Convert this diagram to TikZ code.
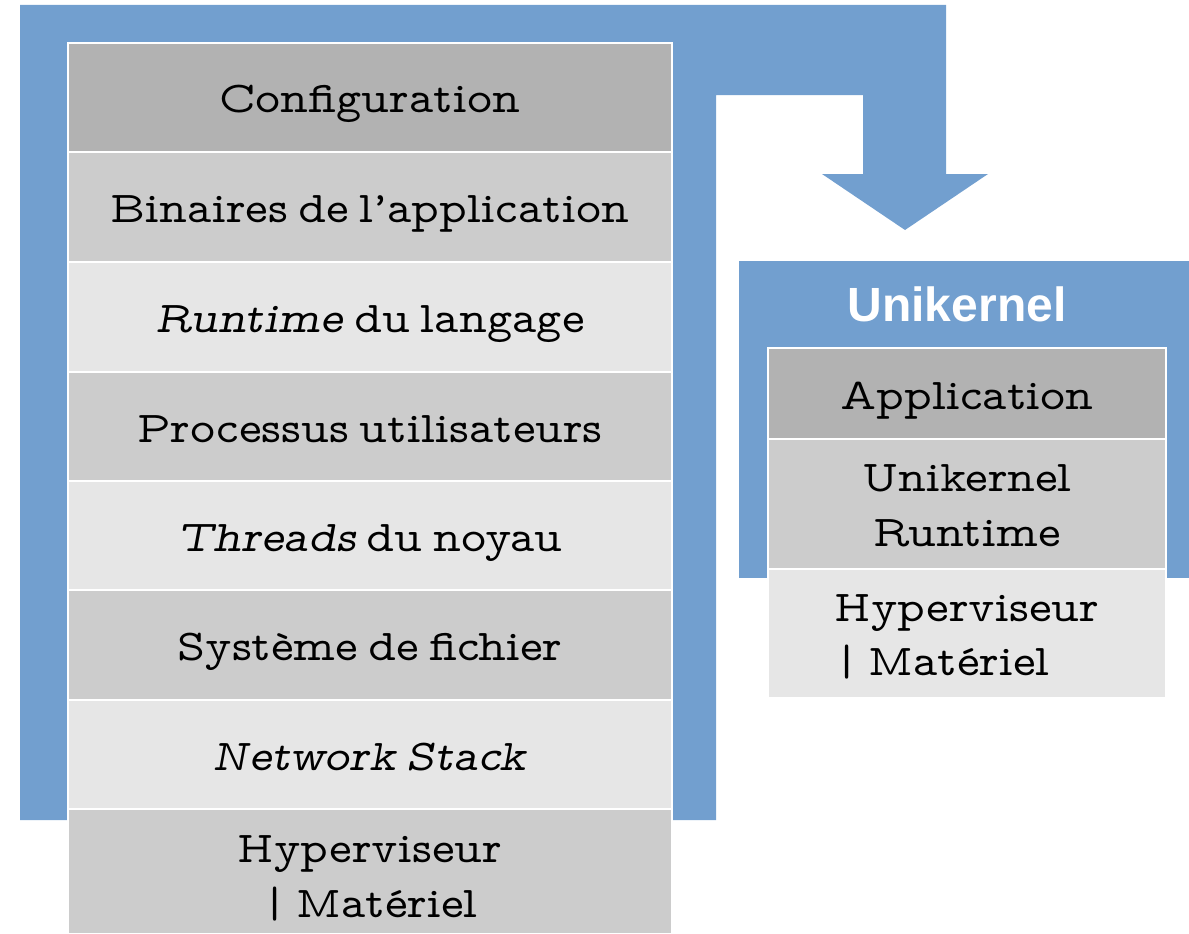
\documentclass[tikz,border=0pt]{standalone}
\usepackage{fontspec}
\newfontfamily\titlefont{Liberation Sans}
\newfontfamily\slab{lmmonoprop10-regular.otf}[FakeStretch=1.09,WordSpace=0.62,
  ItalicFont=lmmonoprop10-oblique.otf]
\definecolor{blueA}{HTML}{729FCF}
\definecolor{grayA}{HTML}{B2B2B2}
\definecolor{grayB}{HTML}{CCCCCC}
\definecolor{grayC}{HTML}{E6E6E6}
\begin{document}
\begin{tikzpicture}[x=1pt,y=-1pt,
  layer/.style={draw=white,line width=1.2pt,inner sep=0pt,
    font=\slab\fontsize{44}{55}\selectfont,text=black,align=center},
  oneline/.style={text height=31pt,text depth=0pt},
  leftrow/.style={layer,minimum width=604pt},
  rightrow/.style={layer,minimum width=398pt}]
\useasboundingbox (0,0) rectangle (1189,934);
% big blue frame with arrow
\fill[blueA] (20,5) -- (946,5) -- (946,174) -- (988,174) -- (905,230) -- (822,174)
  -- (863,174) -- (863,95) -- (716,95) -- (716,820) -- (20,820) -- cycle;
% right blue frame
\fill[blueA] (739,261) rectangle (1189,578);
\node[font=\titlefont\bfseries\fontsize{48}{50}\selectfont,text=white] (title) at (957,304) {Unikernel};
% left stack
\node[leftrow,oneline,fill=grayA,minimum height=109pt] (cfg) at (370,97.5) {Configuration};
\node[leftrow,oneline,fill=grayB,minimum height=110pt] (bin) at (370,207) {Binaires de l’application};
\node[leftrow,oneline,fill=grayC,minimum height=110pt] (rt) at (370,317) {\textit{Runtime} du langage};
\node[leftrow,oneline,fill=grayB,minimum height=109pt] (proc) at (370,426.5) {Processus utilisateurs};
\node[leftrow,oneline,fill=grayC,minimum height=109pt] (thr) at (370,535.5) {\textit{Threads} du noyau};
\node[leftrow,oneline,fill=grayB,minimum height=110pt] (fs) at (370,645) {Système de fichier};
\node[leftrow,oneline,fill=grayC,minimum height=109pt] (net) at (370,754.5) {\textit{Network Stack}};
\node[leftrow,fill=grayB,minimum height=125pt,text height=91pt,text depth=0pt] (hyp) at (370,871.5) {Hyperviseur\\|\hspace{0.2em}Matériel};
% right stack
\node[rightrow,oneline,fill=grayA,minimum height=91pt] (app) at (967,393.5) {Application};
\node[rightrow,fill=grayB,minimum height=130pt,text height=84pt,text depth=0pt] (ukr) at (967,504) {Unikernel\\Runtime};
\node[rightrow,fill=grayC,minimum height=129pt,text height=83pt,text depth=0pt,align=left,
  font=\slab\fontsize{44}{54}\selectfont] (hyp2) at (967,633.5) {Hyperviseur\\|\hspace{0.2em}Matériel};
\end{tikzpicture}
\end{document}
